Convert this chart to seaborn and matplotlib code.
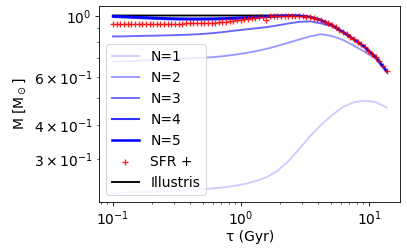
import numpy as np
import pandas as pd
import matplotlib
matplotlib.use("Agg")
import matplotlib.pyplot as plt
import seaborn as sns

# lookback time grid for the SFR+ points (Gyr)
tau_sfr = [0.100, 0.1068, 0.1140, 0.1218, 0.1300, 0.1388, 0.1483, 0.1583, 0.1690, 0.1805,
           0.1928, 0.2058, 0.2198, 0.2347, 0.2506, 0.2676, 0.2858, 0.3051, 0.3258, 0.3479,
           0.3715, 0.3967, 0.4236, 0.4523, 0.4831, 0.5158, 0.5508, 0.5881, 0.6281, 0.6707,
           0.7161, 0.7647, 0.8166, 0.8720, 0.9311, 0.9943, 1.062, 1.134, 1.211, 1.293,
           1.380, 1.474, 1.574, 1.681, 1.795, 1.917, 2.046, 2.185, 2.333, 2.492,
           2.661, 2.841, 3.034, 3.240, 3.459, 3.694, 3.945, 4.212, 4.498, 4.803,
           5.129, 5.476, 5.848, 6.245, 6.668, 7.120, 7.603, 8.119, 8.670, 9.258,
           9.886, 10.56, 11.27, 12.04, 12.85, 13.72]
m_sfr = [0.933, 0.933, 0.933, 0.933, 0.933, 0.933, 0.933, 0.933, 0.934, 0.934,
         0.934, 0.934, 0.934, 0.934, 0.935, 0.935, 0.935, 0.935, 0.935, 0.935,
         0.936, 0.936, 0.937, 0.937, 0.938, 0.939, 0.940, 0.941, 0.943, 0.945,
         0.948, 0.951, 0.954, 0.958, 0.961, 0.965, 0.969, 0.973, 0.977, 0.981,
         0.984, 0.988, 0.966, 0.994, 0.996, 0.998, 0.999, 1.000, 1.000, 1.000,
         0.999, 0.997, 0.994, 0.990, 0.986, 0.979, 0.970, 0.960, 0.949, 0.937,
         0.922, 0.906, 0.888, 0.871, 0.854, 0.836, 0.819, 0.803, 0.786, 0.768,
         0.745, 0.725, 0.705, 0.682, 0.655, 0.627]

# grid for the model curves
tau = [0.100, 0.1218, 0.1483, 0.1805, 0.2198, 0.2676, 0.3258, 0.3967, 0.4831, 0.5881,
       0.7161, 0.8720, 1.062, 1.293, 1.574, 1.917, 2.333, 2.841, 3.459, 4.212,
       5.129, 6.245, 7.603, 9.258, 11.27, 13.72]
m_n1 = [0.226, 0.227, 0.228, 0.229, 0.229, 0.230, 0.231, 0.232, 0.233, 0.235,
        0.237, 0.240, 0.244, 0.250, 0.258, 0.272, 0.295, 0.327, 0.364, 0.400,
        0.434, 0.465, 0.484, 0.490, 0.484, 0.463]
m_n2 = [0.679, 0.682, 0.684, 0.687, 0.689, 0.692, 0.695, 0.698, 0.701, 0.705,
        0.711, 0.719, 0.729, 0.741, 0.756, 0.775, 0.796, 0.818, 0.840, 0.855,
        0.842, 0.815, 0.777, 0.737, 0.696, 0.627]
m_n3 = [0.839, 0.840, 0.842, 0.844, 0.845, 0.847, 0.849, 0.852, 0.856, 0.862,
        0.870, 0.880, 0.889, 0.898, 0.907, 0.920, 0.935, 0.948, 0.952, 0.936,
        0.914, 0.868, 0.817, 0.767, 0.704, 0.626]
m_n4 = [0.988, 0.984, 0.980, 0.976, 0.972, 0.969, 0.967, 0.966, 0.966, 0.967,
        0.969, 0.972, 0.976, 0.981, 0.987, 0.992, 0.996, 0.997, 0.987, 0.961,
        0.922, 0.871, 0.819, 0.768, 0.705, 0.627]
m_n5 = [0.995, 0.991, 0.987, 0.983, 0.979, 0.976, 0.974, 0.973, 0.973, 0.974,
        0.976, 0.979, 0.983, 0.987, 0.992, 0.996, 0.998, 0.998, 0.988, 0.961,
        0.922, 0.871, 0.819, 0.768, 0.705, 0.627]
m_illustris = [1.0, 1.0, 1.0, 1.0, 1.0, 1.0, 1.0, 1.0, 1.0, 1.0,
               1.0, 1.0, 1.0, 1.0, 1.0, 1.0, 1.0, 0.998, 0.987, 0.961,
               0.922, 0.871, 0.819, 0.768, 0.705, 0.627]

plt.rcParams['font.size'] = 13.3
fig = plt.figure(figsize=(5.43, 3.35), dpi=75)
ax = fig.add_axes([0.2432, 0.1952, 0.7396, 0.7809])

n_curves = [m_n1, m_n2, m_n3, m_n4, m_n5]
widths = [1.8, 1.8, 1.8, 2.0, 2.4]
for i, m in enumerate(n_curves):
    sns.lineplot(x=tau, y=m, color='blue', alpha=0.2 * (i + 1), lw=widths[i],
                 label=f'N={i + 1}', ax=ax)

sns.scatterplot(x=tau_sfr, y=m_sfr, marker='+', color='red', s=38, linewidth=1.3,
                alpha=0.85, label='SFR +', ax=ax, zorder=3)
sns.lineplot(x=tau, y=m_illustris, color='black', lw=1.8, label='Illustris', ax=ax, zorder=1)

ax.set_xscale('log')
ax.set_yscale('log')
ax.set_xlim(0.0778, 17.5)
ax.set_ylim(0.21, 1.085)
ax.set_xlabel('τ (Gyr)', labelpad=1.5)
ax.set_ylabel(r'M [M$_\odot$]', labelpad=6)
ax.legend(loc='lower left')

fig.savefig('out.png', dpi=75)
